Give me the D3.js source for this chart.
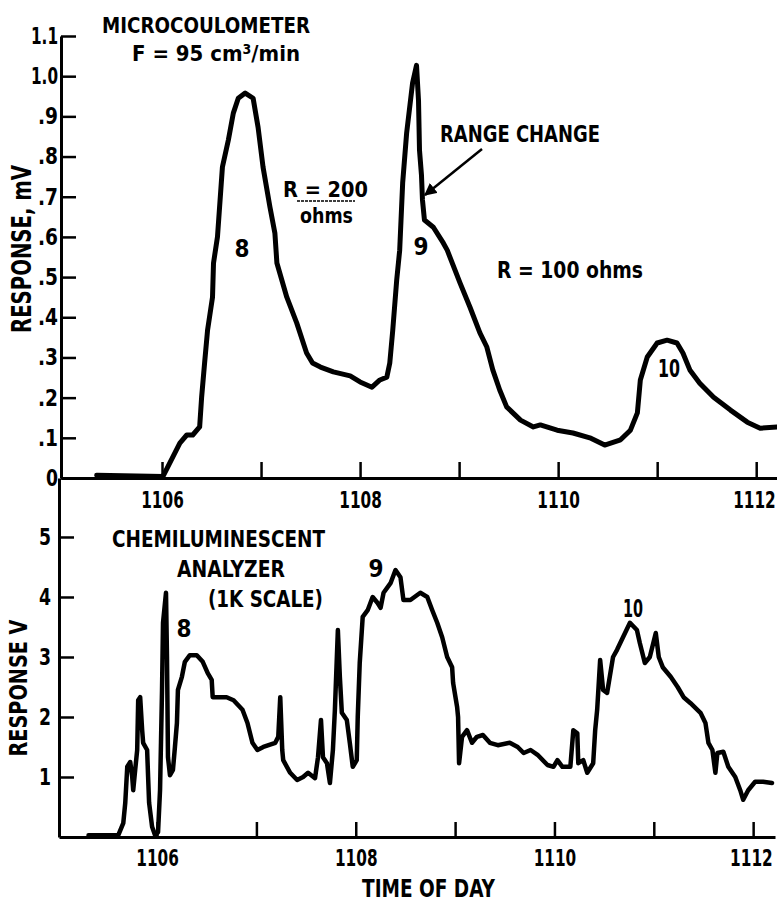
<!DOCTYPE html>
<html>
<head>
<meta charset="utf-8">
<script src="https://cdn.jsdelivr.net/npm/d3@7"></script>
<style>
html,body{margin:0;padding:0;background:#fff;}
svg{display:block;}
text{font-family:"Liberation Sans Narrow","DejaVu Sans Condensed","Roboto Condensed","Arial Narrow",sans-serif;font-weight:bold;fill:#000;}
</style>
</head>
<body>
<svg id="chart" width="777" height="905"></svg>
<script>
// ---------- DATA ----------
const microTime = [1105.34,1106.01,1106.18,1106.25,1106.31,1106.38,1106.40,1106.43,1106.46,1106.51,1106.52,1106.56,1106.61,1106.67,1106.72,1106.77,1106.84,1106.92,1106.97,1107.02,1107.09,1107.14,1107.16,1107.26,1107.36,1107.46,1107.52,1107.60,1107.73,1107.90,1108.00,1108.12,1108.20,1108.27,1108.30,1108.33,1108.37,1108.40,1108.43,1108.47,1108.53,1108.57,1108.59,1108.60,1108.62,1108.63,1108.65,1108.74,1108.84,1108.88,1109.01,1109.11,1109.21,1109.28,1109.34,1109.41,1109.48,1109.62,1109.75,1109.82,1109.99,1110.15,1110.32,1110.47,1110.63,1110.73,1110.80,1110.83,1110.90,1111.00,1111.10,1111.20,1111.26,1111.33,1111.43,1111.57,1111.74,1111.91,1112.04,1112.21];
const microResp = [0.007,0.004,0.087,0.107,0.107,0.127,0.201,0.286,0.368,0.450,0.535,0.600,0.774,0.841,0.908,0.945,0.958,0.945,0.873,0.774,0.674,0.609,0.535,0.450,0.386,0.311,0.286,0.276,0.264,0.254,0.239,0.226,0.244,0.251,0.286,0.368,0.493,0.567,0.734,0.858,0.983,1.027,0.940,0.816,0.754,0.692,0.642,0.624,0.585,0.567,0.485,0.425,0.361,0.326,0.269,0.219,0.177,0.144,0.127,0.132,0.119,0.112,0.100,0.082,0.095,0.119,0.162,0.244,0.301,0.336,0.343,0.336,0.311,0.269,0.236,0.201,0.169,0.139,0.124,0.127];

const chemiTime = [1105.31,1105.61,1105.66,1105.68,1105.70,1105.73,1105.75,1105.76,1105.78,1105.80,1105.81,1105.83,1105.85,1105.86,1105.90,1105.91,1105.92,1105.95,1105.98,1106.01,1106.03,1106.05,1106.06,1106.09,1106.10,1106.11,1106.13,1106.16,1106.18,1106.20,1106.21,1106.25,1106.28,1106.33,1106.40,1106.46,1106.51,1106.55,1106.56,1106.60,1106.70,1106.77,1106.86,1106.91,1106.96,1107.01,1107.07,1107.19,1107.22,1107.24,1107.26,1107.27,1107.34,1107.41,1107.47,1107.52,1107.59,1107.62,1107.65,1107.67,1107.71,1107.74,1107.77,1107.79,1107.82,1107.84,1107.86,1107.91,1107.94,1107.97,1108.01,1108.02,1108.04,1108.07,1108.12,1108.17,1108.22,1108.25,1108.28,1108.35,1108.40,1108.45,1108.48,1108.55,1108.65,1108.72,1108.77,1108.82,1108.87,1108.92,1108.97,1108.98,1109.02,1109.03,1109.04,1109.07,1109.12,1109.17,1109.22,1109.28,1109.35,1109.43,1109.55,1109.63,1109.69,1109.76,1109.83,1109.93,1109.99,1110.03,1110.08,1110.16,1110.19,1110.23,1110.24,1110.29,1110.33,1110.39,1110.41,1110.43,1110.46,1110.49,1110.53,1110.59,1110.63,1110.69,1110.76,1110.83,1110.86,1110.91,1110.96,1111.02,1111.05,1111.09,1111.17,1111.24,1111.30,1111.37,1111.47,1111.52,1111.55,1111.59,1111.62,1111.64,1111.70,1111.75,1111.82,1111.87,1111.90,1111.95,1112.02,1112.10,1112.19];
const chemiResp = [0.03,0.03,0.23,0.57,1.17,1.25,1.00,0.78,1.12,1.45,2.28,2.33,1.78,1.57,1.45,1.00,0.57,0.17,0.03,0.08,0.78,2.45,3.57,4.07,3.00,1.33,1.03,1.12,1.50,1.90,2.45,2.67,2.92,3.03,3.03,2.92,2.73,2.62,2.33,2.33,2.33,2.28,2.12,1.90,1.57,1.45,1.50,1.57,1.67,2.33,1.45,1.28,1.07,0.95,1.00,1.07,0.98,1.33,1.95,1.33,1.23,0.90,1.45,2.12,3.45,2.67,2.07,1.95,1.57,1.17,1.28,2.00,2.90,3.67,3.78,4.00,3.90,3.82,4.07,4.23,4.45,4.33,3.95,3.95,4.07,4.00,3.78,3.57,3.33,3.00,2.83,2.57,2.17,2.00,1.23,1.67,1.78,1.57,1.67,1.70,1.57,1.53,1.57,1.50,1.40,1.45,1.37,1.20,1.17,1.28,1.17,1.17,1.78,1.73,1.23,1.28,1.07,1.23,1.78,2.12,2.95,2.45,2.40,3.00,3.12,3.33,3.57,3.45,3.23,2.90,3.00,3.40,3.00,2.83,2.67,2.50,2.33,2.23,2.07,1.90,1.57,1.45,1.07,1.40,1.42,1.17,1.00,0.78,0.62,0.78,0.92,0.92,0.90];

const timeTicks = [1106,1107,1108,1109,1110,1111,1112];
const timeTickLabels = {1106:"1106",1108:"1108",1110:"1110",1112:"1112"};
const microTicks = [0,0.1,0.2,0.3,0.4,0.5,0.6,0.7,0.8,0.9,1.0,1.1];
const microTickLabels = ["0",".1",".2",".3",".4",".5",".6",".7",".8",".9","1.0","1.1"];
const chemiTicks = [1,2,3,4,5];
const chemiTickLabels = ["1","2","3","4","5"];

// ---------- LAYOUT ----------
const svg = d3.select("#chart");
const xTop = d3.scaleLinear().domain([1104.98,1112.21]).range([61,777]);
const yTop = d3.scaleLinear().domain([0,1.1]).range([478,36]);
const xBot = d3.scaleLinear().domain([1105.013,1112.22]).range([59,775]);
const yBot = d3.scaleLinear().domain([0,5.983]).range([837,478]);

function styleAxis(g, fs){
  g.select(".domain").attr("stroke","#000").attr("stroke-width",3);
  g.selectAll(".tick line").attr("stroke","#000").attr("stroke-width",2.5);
  g.selectAll(".tick text").style("font-size",fs+"px").attr("fill","#000")
   .style("font-family",'"Liberation Sans Narrow","DejaVu Sans Condensed",sans-serif').style("font-weight","bold");
}
function fitX(g){
  // tall, narrow figures: stretch vertically instead of squeezing horizontally
  g.selectAll(".tick text").attr("transform","scale(1,1.3)");
  g.selectAll(".tick text").filter(d=>d===1112).attr("text-anchor","end").attr("x",19);
}
function fitY(g){
  g.selectAll(".tick text").each(function(){
    const n = this.textContent.length;
    d3.select(this).attr("textLength", n===1?12:(n===2?20:27)).attr("lengthAdjust","spacingAndGlyphs");
  });
}

// top left axis
const gTopY = svg.append("g").attr("transform","translate(61,0)")
  .call(d3.axisLeft(yTop).tickValues(microTicks).tickSize(-15).tickSizeOuter(0)
    .tickPadding(3).tickFormat((d,i)=>microTickLabels[i]));
styleAxis(gTopY,23); fitY(gTopY);
// top x axis
const gTopX = svg.append("g").attr("transform","translate(0,478)")
  .call(d3.axisBottom(xTop).tickValues(timeTicks).tickSize(-16).tickSizeOuter(0)
    .tickPadding(11).tickFormat(d=>timeTickLabels[d]||""));
styleAxis(gTopX,17); fitX(gTopX);

// bottom left axis
const gBotY = svg.append("g").attr("transform","translate(59,0)")
  .call(d3.axisLeft(yBot).tickValues(chemiTicks).tickSize(-15).tickSizeOuter(0)
    .tickPadding(8).tickFormat((d,i)=>chemiTickLabels[i]));
styleAxis(gBotY,23); fitY(gBotY);
// bottom x axis
const gBotX = svg.append("g").attr("transform","translate(0,837)")
  .call(d3.axisBottom(xBot).tickValues(timeTicks).tickSize(-15).tickSizeOuter(0)
    .tickPadding(10).tickFormat(d=>timeTickLabels[d]||""));
styleAxis(gBotX,17); fitX(gBotX);

// curves
const lineTop = d3.line().x((d,i)=>xTop(microTime[i])).y(d=>yTop(d));
svg.append("path").attr("d",lineTop(microResp)).attr("fill","none")
  .attr("stroke","#000").attr("stroke-width",5).attr("stroke-linejoin","round").attr("stroke-linecap","round");
const lineBot = d3.line().x((d,i)=>xBot(chemiTime[i])).y(d=>yBot(d));
svg.append("path").attr("d",lineBot(chemiResp)).attr("fill","none")
  .attr("stroke","#000").attr("stroke-width",4.5).attr("stroke-linejoin","round").attr("stroke-linecap","round");

// ---------- TEXT ----------
function txt(s, x, y, fs, w, anchor){
  const t = svg.append("text").attr("x",x).attr("y",y).style("font-size",fs+"px")
    .attr("text-anchor",anchor||"start").text(s);
  if(w) t.attr("textLength",w).attr("lengthAdjust","spacingAndGlyphs");
  return t;
}
txt("MICROCOULOMETER",102,33,21,208);
const f = svg.append("text").attr("x",132).attr("y",61).style("font-size","22px")
  .attr("textLength",168).attr("lengthAdjust","spacingAndGlyphs");
f.append("tspan").text("F = 95 cm");
f.append("tspan").attr("dy",-7).style("font-size","14px").text("3");
f.append("tspan").attr("dy",7).text("/min");
txt("R = 200",283,197,22,85);
svg.append("line").attr("x1",297).attr("x2",355).attr("y1",201).attr("y2",201)
  .attr("stroke","#000").attr("stroke-width",1.5).attr("stroke-dasharray","3,1");
txt("ohms",300,223,22,53);
txt("8",242,257,24,null,"middle");
txt("RANGE CHANGE",440,142,23,160);
txt("9",421,255,24,null,"middle");
txt("R = 100 ohms",497,278,23,146);
txt("10",669,377,24,22,"middle");

txt("CHEMILUMINESCENT",112,547,23,213);
txt("ANALYZER",177,577,23,108);
txt("(1K SCALE)",208,607,23,115);
txt("8",184,637,24,null,"middle");
txt("9",376,577,24,null,"middle");
txt("10",633,617,24,20,"middle");
txt("TIME OF DAY",362,897,24,133);

// y labels
svg.append("text").attr("transform","translate(31,249) rotate(-90)").attr("text-anchor","middle")
  .style("font-size","26px").attr("textLength",168).attr("lengthAdjust","spacingAndGlyphs").text("RESPONSE, mV");
svg.append("text").attr("transform","translate(27,688) rotate(-90)").attr("text-anchor","middle")
  .style("font-size","24px").attr("textLength",137).attr("lengthAdjust","spacingAndGlyphs").text("RESPONSE V");

// arrow
svg.append("defs").append("marker").attr("id","ah").attr("viewBox","0 0 10 10")
  .attr("refX",9).attr("refY",5).attr("markerWidth",5).attr("markerHeight",5)
  .attr("orient","auto").attr("markerUnits","strokeWidth")
  .append("path").attr("d","M0,0 L10,5 L0,10 z").attr("fill","#000");
svg.append("line").attr("x1",482).attr("y1",149).attr("x2",425).attr("y2",195)
  .attr("stroke","#000").attr("stroke-width",2.5).attr("marker-end","url(#ah)");
</script>
</body>
</html>
